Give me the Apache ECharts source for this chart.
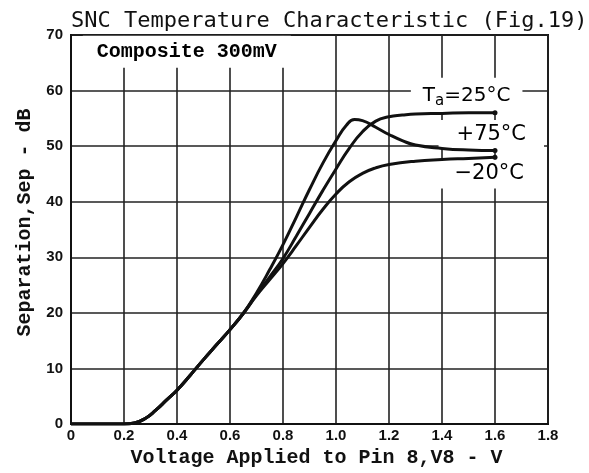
<!DOCTYPE html>
<html>
<head>
<meta charset="utf-8">
<script src="https://cdn.jsdelivr.net/npm/echarts@6/dist/echarts.min.js"></script>
<style>html,body{margin:0;padding:0;background:#fff;}#c{width:589px;height:473px;}</style>
</head>
<body>
<div id="c"></div>
<script>
// ---- data ----
var commonX = [0, 0.1, 0.2, 0.24, 0.28, 0.32, 0.36, 0.4, 0.45, 0.5, 0.55, 0.6, 0.65];
var commonY = [0, 0, 0, 0.2, 1.0, 2.5, 4.3, 6.1, 8.8, 11.6, 14.3, 17.0, 19.9];

var t75X = [0.7, 0.75, 0.8, 0.85, 0.9, 0.95, 1.0, 1.04, 1.07, 1.1, 1.15, 1.2, 1.25, 1.3, 1.4, 1.5, 1.6];
var t75Y = [23.6, 27.8, 32.3, 37.2, 42.2, 46.9, 51.0, 53.8, 54.8, 54.6, 53.4, 52.1, 51.0, 50.2, 49.6, 49.3, 49.2];

var t25X = [0.7, 0.75, 0.8, 0.85, 0.9, 0.95, 1.0, 1.05, 1.1, 1.15, 1.2, 1.25, 1.3, 1.4, 1.5, 1.6];
var t25Y = [23.3, 26.5, 29.8, 33.8, 37.9, 42.0, 45.9, 49.6, 52.6, 54.5, 55.3, 55.6, 55.8, 55.9, 56.0, 56.0];

var tm20X = [0.7, 0.75, 0.8, 0.85, 0.9, 0.95, 1.0, 1.05, 1.1, 1.15, 1.2, 1.3, 1.4, 1.5, 1.6];
var tm20Y = [23.1, 26.0, 28.9, 32.1, 35.4, 38.6, 41.4, 43.6, 45.1, 46.1, 46.7, 47.3, 47.6, 47.8, 48.0];

var xTicks = [0, 0.2, 0.4, 0.6, 0.8, 1.0, 1.2, 1.4, 1.6, 1.8];
var yTicks = [0, 10, 20, 30, 40, 50, 60, 70];

var titleText = 'SNC Temperature Characteristic (Fig.19)';
var xName = 'Voltage Applied to Pin 8,V8 - V';
var yName = 'Separation,Sep - dB';

// annotation texts and their anchor positions in data units
var noteNames = ['composite', 'ta25', 'p75', 'm20'];
var noteAt = [[0.437, 67.0], [1.493, 59.0], [1.586, 52.1], [1.578, 45.0]];

function build(xs, ys) {
  var out = [];
  for (var i = 0; i < commonX.length; i++) out.push([commonX[i], commonY[i]]);
  for (var j = 0; j < xs.length; j++) {
    if (j === xs.length - 1) out.push({value: [xs[j], ys[j]], symbol: 'circle', symbolSize: 5});
    else out.push([xs[j], ys[j]]);
  }
  return out;
}

var chart = echarts.init(document.getElementById('c'), null, {renderer: 'canvas'});

function lineSeries(name, data) {
  return {
    name: name, type: 'line', data: data, z: 3,
    smooth: 0.5,
    symbol: 'none', showSymbol: true,
    itemStyle: {color: '#111'},
    lineStyle: {color: '#111', width: 3},
    emphasis: {disabled: true},
    animation: false
  };
}

var texts = {
  composite: 'Composite 300mV',
  ta25: '{t|T}{s|a}{t|=25°C}',
  p75: '+75°C',
  m20: '−20°C'
};

var noteData = noteNames.map(function (n, i) {
  var lab;
  if (n === 'composite') {
    lab = {show: true, position: 'inside', formatter: texts[n],
      fontFamily: 'Liberation Mono', fontWeight: 'bold', fontSize: 20, color: '#000',
      backgroundColor: '#fff', padding: [6, 14, 6, 14]};
  } else if (n === 'ta25') {
    lab = {show: true, position: 'inside', formatter: texts[n],
      backgroundColor: '#fff', padding: [6, 12, 6, 12],
      rich: {
        t: {fontFamily: 'DejaVu Sans', fontSize: 20, color: '#000'},
        s: {fontFamily: 'DejaVu Sans', fontSize: 15, color: '#000', padding: [10, 0, 0, 0]}
      }};
  } else {
    lab = {show: true, position: 'inside', formatter: texts[n],
      fontFamily: 'DejaVu Sans', fontSize: 21, color: '#000',
      backgroundColor: '#fff', padding: [4, 18, 4, 18]};
  }
  return {name: n, value: noteAt[i], label: lab};
});

var option = {
  backgroundColor: '#fff',
  animation: false,
  title: {
    text: titleText, left: 66, top: 5,
    textStyle: {fontFamily: 'DejaVu Sans Mono', fontWeight: 'normal', fontSize: 22, color: '#111'}
  },
  grid: {left: 71, right: 41, top: 35, bottom: 46, show: true, borderColor: '#111', borderWidth: 2, backgroundColor: 'transparent'},
  xAxis: {
    type: 'value', min: 0, max: 1.8, interval: 0.2,
    name: xName, nameLocation: 'middle', nameGap: 18,
    nameTextStyle: {fontFamily: 'Liberation Mono', fontWeight: 'bold', fontSize: 20, color: '#111', padding: [0, 0, 0, 14]},
    axisLine: {show: true, lineStyle: {color: '#111', width: 2}},
    axisTick: {show: false},
    axisLabel: {
      margin: 4, fontFamily: 'Liberation Sans', fontWeight: 'bold', fontSize: 15, color: '#111',
      formatter: function (v) {
        for (var i = 0; i < xTicks.length; i++) if (Math.abs(xTicks[i] - v) < 1e-6) return v === 0 ? '0' : xTicks[i].toFixed(1);
        return '';
      }
    },
    splitLine: {show: true, lineStyle: {color: '#222', width: 1.6}}
  },
  yAxis: {
    type: 'value', min: 0, max: 70, interval: 10,
    name: yName, nameLocation: 'middle', nameGap: 30,
    nameTextStyle: {fontFamily: 'Liberation Mono', fontWeight: 'bold', fontSize: 20, color: '#111', padding: [0, 0, 0, 14]},
    axisLine: {show: true, lineStyle: {color: '#111', width: 2}},
    axisTick: {show: false},
    axisLabel: {
      margin: 8, fontFamily: 'Liberation Sans', fontWeight: 'bold', fontSize: 15, color: '#111',
      formatter: function (v) {
        for (var i = 0; i < yTicks.length; i++) if (yTicks[i] === v) return String(v);
        return '';
      }
    },
    splitLine: {show: true, lineStyle: {color: '#222', width: 1.6}}
  },
  series: [
    {
      name: 'notes', type: 'scatter', z: 1, symbolSize: 0,
      itemStyle: {color: '#fff', opacity: 1},
      emphasis: {disabled: true},
      data: noteData, silent: true, animation: false
    },
    lineSeries('Ta=25°C', build(t25X, t25Y)),
    lineSeries('+75°C', build(t75X, t75Y)),
    lineSeries('-20°C', build(tm20X, tm20Y))
  ]
};
chart.setOption(option);
</script>
</body>
</html>
